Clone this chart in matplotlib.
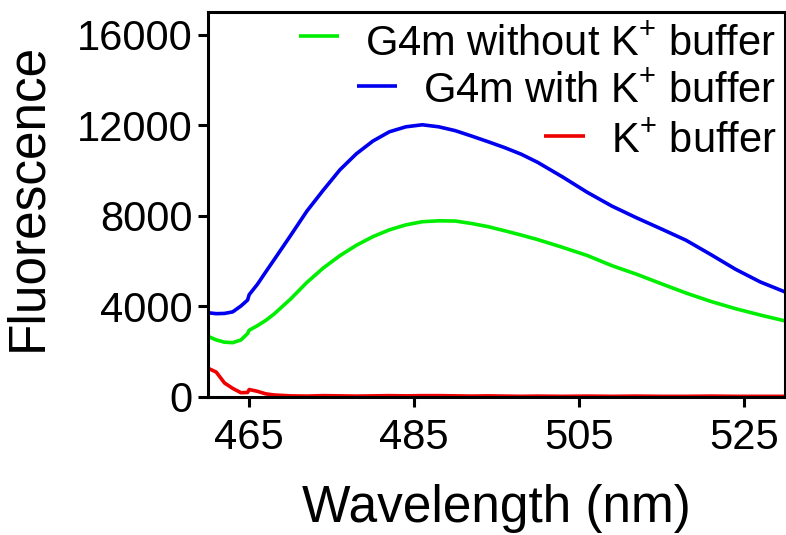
import matplotlib
matplotlib.use('Agg')
import matplotlib.pyplot as plt

plt.rcParams['font.family'] = ['Liberation Sans', 'DejaVu Sans']
plt.rcParams['mathtext.fontset'] = 'custom'
plt.rcParams['mathtext.rm'] = 'Liberation Sans'
plt.rcParams['mathtext.it'] = 'Liberation Sans'

# wavelengths (nm)
wavelength = [460, 461, 462, 463, 464, 464.8, 465, 466, 467, 468, 470, 472, 474, 476,
              478, 480, 482, 484, 486, 488, 490, 492, 494, 496, 498, 500, 503, 506,
              509, 512, 515, 518, 521, 524, 527, 530]

g4m_without_k = [2680, 2520, 2420, 2400, 2520, 2800, 2950, 3150, 3380, 3660, 4320, 5060,
                 5700, 6240, 6700, 7080, 7380, 7600, 7740, 7780, 7770, 7660, 7520, 7340,
                 7150, 6950, 6610, 6250, 5800, 5420, 5000, 4590, 4220, 3900, 3620, 3360]

g4m_with_k = [3720, 3680, 3690, 3760, 4020, 4280, 4520, 4980, 5520, 6050, 7120, 8210,
              9140, 10030, 10740, 11300, 11710, 11930, 12020, 11930, 11760, 11520, 11270,
              11010, 10720, 10360, 9720, 9040, 8430, 7910, 7420, 6920, 6290, 5640, 5080, 4640]

k_buffer = [1270, 1100, 620, 380, 190, 200, 330, 250, 140, 90, 50, 40, 60, 50, 40, 50,
            60, 50, 60, 60, 50, 40, 50, 40, 30, 40, 30, 40, 30, 40, 30, 30, 40, 30, 30, 30]

labels = ['G4m without K$^{+}$ buffer', 'G4m with K$^{+}$ buffer', 'K$^{+}$ buffer']
colors = ['#00ee00', '#0000ee', '#ee0000']

fig = plt.figure(figsize=(7.86, 5.35), dpi=100)
ax = fig.add_axes([208 / 786, 1 - 397 / 535, 577 / 786, 385 / 535])

for vals, c in zip([g4m_without_k, g4m_with_k, k_buffer], colors):
    ax.plot(wavelength, vals, color=c, lw=2.6, solid_capstyle='butt')

ax.set_xlim(460, 530)
ax.set_ylim(0, 17000)
ax.set_xticks([465, 485, 505, 525])
ax.set_yticks([0, 4000, 8000, 12000, 16000])
for s in ax.spines.values():
    s.set_linewidth(2.2)
ax.tick_params(direction='out', length=7, width=2.2, labelsize=30)
ax.tick_params(axis='x', pad=8)
ax.tick_params(axis='y', pad=4)

ax.set_xlabel('Wavelength (nm)', fontsize=37)
ax.set_ylabel('Fluorescence', fontsize=37)
ax.xaxis.set_label_coords(0.5, -0.225)
ax.yaxis.set_label_coords(-0.27, 0.52)

# right-aligned legend, line handle in front of each text (Prism style)
fig.canvas.draw()
renderer = fig.canvas.get_renderer()
text_y = [0.888, 0.764, 0.634]
handle_y = [0.938, 0.808, 0.679]
for lab, c, ty, hy in zip(labels, colors, text_y, handle_y):
    t = ax.text(0.985, ty, lab, transform=ax.transAxes, ha='right', va='baseline',
                fontsize=30)
    bb = t.get_window_extent(renderer).transformed(ax.transAxes.inverted())
    ax.plot([bb.x0 - 0.115, bb.x0 - 0.045], [hy, hy], transform=ax.transAxes,
            color=c, lw=2.6, solid_capstyle='butt')

fig.savefig('out.png', dpi=100)
